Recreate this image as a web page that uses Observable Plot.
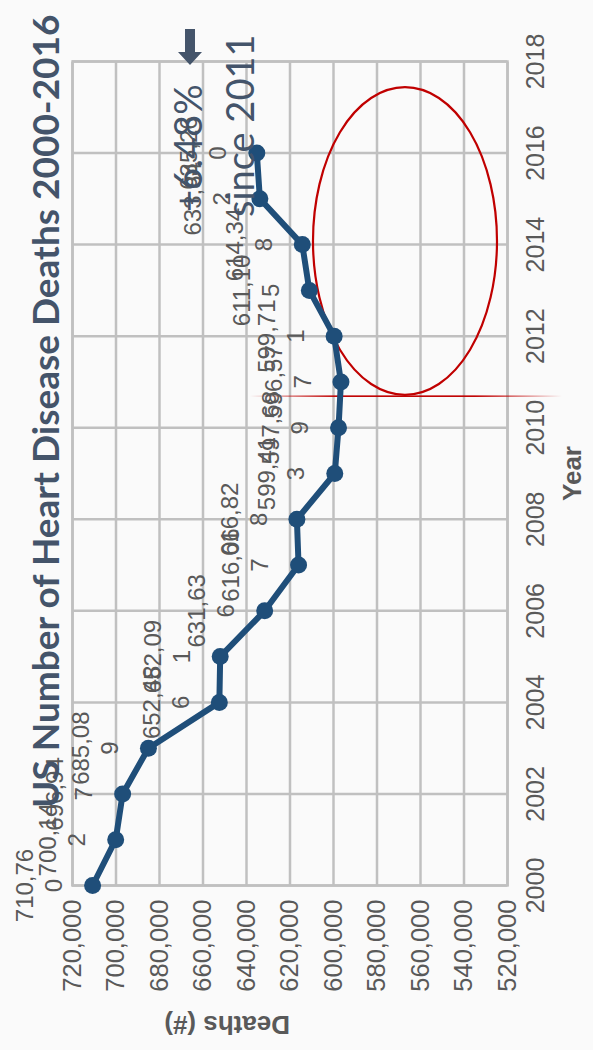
<!DOCTYPE html>
<html>
<head>
<meta charset="utf-8">
<script src="https://cdn.jsdelivr.net/npm/d3@7"></script>
<script src="https://cdn.jsdelivr.net/npm/@observablehq/plot@0.6"></script>
<style>
  html, body { margin: 0; padding: 0; background: #fafafa; overflow: hidden; width: 593px; height: 1050px; }
  #rot { position: absolute; left: 0; top: 0; width: 1050px; height: 593px;
         transform-origin: 0 0; transform: translate(0px, 1050px) rotate(-90deg); }
  #chart { position: absolute; left: 0; top: 0; }
  .title { position: absolute; left: 242px; top: 26px; white-space: nowrap;
           font-family: Lato, "Open Sans", sans-serif; font-weight: bold; font-size: 37px;
           line-height: 38px; color: #44546a; }
  .note { position: absolute; white-space: nowrap; font-family: Lato, "Open Sans", sans-serif;
          font-size: 38px; line-height: 38px; color: #44546a; }
  #arrow { position: absolute; left: 985px; top: 178px; }
</style>
</head>
<body>
<div id="rot">
  <div id="chart"></div>
  <div class="title" id="title"></div>
  <div class="note" id="note1" style="left:838px; top:168px;"></div>
  <div class="note" id="note2" style="left:833px; top:220px;"></div>
  <svg id="arrow" width="36" height="24" viewBox="0 0 36 24"><polygon points="0,12 13,0 13,7 36,7 36,17 13,17 13,24" fill="#44546a"/></svg>
</div>
<script>
const years = [2000, 2001, 2002, 2003, 2004, 2005, 2006, 2007, 2008, 2009, 2010, 2011, 2012, 2013, 2014, 2015, 2016];
const deaths = [710760, 700142, 696947, 685089, 652486, 652091, 631636, 616067, 616828, 599413, 597689, 596577, 599711, 611105, 614348, 633842, 635260];
const yearTicks = [2000, 2002, 2004, 2006, 2008, 2010, 2012, 2014, 2016, 2018];
const deathTicks = [520000, 540000, 560000, 580000, 600000, 620000, 640000, 660000, 680000, 700000, 720000];
const titleText = "US Number of Heart Disease Deaths 2000-2016";
const xLabel = "Year";
const yLabel = "Deaths (#)";
const noteLine1 = "+6.48%";
const noteLine2 = "since 2011";

// annotation shapes (data units)
const ellipseCenter = {year: 2014.09, deaths: 566900};
const ellipseRadius = {years: 3.36, deaths: 42300};
const markerLine = {year: 2010.70, from: 638200, to: 494700};

document.getElementById("title").textContent = titleText;
document.getElementById("note1").textContent = noteLine1;
document.getElementById("note2").textContent = noteLine2;

const data = years.map((year, i) => ({year, deaths: deaths[i]}));
const fmt = d3.format(",");

function annotations(index, scales) {
  const g = d3.create("svg:g");
  const x = scales.x, y = scales.y;
  const defs = g.append("defs");
  const x0 = x(markerLine.year), y0 = y(markerLine.from), y1 = y(markerLine.to);
  const grad = defs.append("linearGradient").attr("id", "fadeLine")
    .attr("gradientUnits", "userSpaceOnUse")
    .attr("x1", x0).attr("x2", x0).attr("y1", y0).attr("y2", y1);
  grad.append("stop").attr("offset", "0%").attr("stop-color", "#c00000").attr("stop-opacity", 0);
  grad.append("stop").attr("offset", "28%").attr("stop-color", "#c00000").attr("stop-opacity", 1);
  grad.append("stop").attr("offset", "72%").attr("stop-color", "#c00000").attr("stop-opacity", 1);
  grad.append("stop").attr("offset", "100%").attr("stop-color", "#c00000").attr("stop-opacity", 0);
  g.append("rect").attr("x", x0 - 0.8).attr("y", y0).attr("width", 1.6).attr("height", y1 - y0)
    .attr("fill", "url(#fadeLine)");
  const cx = x(ellipseCenter.year), cy = y(ellipseCenter.deaths);
  g.append("ellipse").attr("cx", cx).attr("cy", cy)
    .attr("rx", x(ellipseCenter.year + ellipseRadius.years) - cx)
    .attr("ry", cy - y(ellipseCenter.deaths + ellipseRadius.deaths))
    .attr("fill", "none").attr("stroke", "#c00000").attr("stroke-width", 2.2);
  return g.node();
}

const chart = Plot.plot({
  width: 1050,
  height: 593,
  marginLeft: 164,
  marginRight: 62,
  marginTop: 72,
  marginBottom: 86,
  style: {fontFamily: "'Liberation Sans', Arial, sans-serif", fontSize: "25px", color: "#595959", background: "transparent", overflow: "visible"},
  x: {domain: [2000, 2018], ticks: yearTicks, tickFormat: d => String(d)},
  y: {domain: [520000, 720000], ticks: deathTicks, tickFormat: d => fmt(d)},
  marks: [
    Plot.gridX(yearTicks, {stroke: "#c0c0c0", strokeOpacity: 1, strokeWidth: 2.5}),
    Plot.gridY(deathTicks, {stroke: "#c0c0c0", strokeOpacity: 1, strokeWidth: 2.5}),
    Plot.frame({stroke: "#c0c0c0", strokeWidth: 2.5}),
    Plot.axisX(yearTicks, {tickSize: 0, tickPadding: 19, label: null, tickFormat: d => String(d), fontSize: 25, fill: "#595959"}),
    Plot.axisY(deathTicks, {tickSize: 0, tickPadding: 14, label: null, tickFormat: d => fmt(d), fontSize: 25.5, fill: "#595959"}),
    Plot.text([xLabel], {frameAnchor: "bottom", dy: 73, fontWeight: "bold", fontSize: 26, fill: "#595959"}),
    Plot.text([yLabel], {frameAnchor: "left", dx: -139, rotate: -90, fontWeight: "bold", fontSize: 26, fill: "#595959"}),
    annotations,
    Plot.line(data, {x: "year", y: "deaths", stroke: "#1f4e79", strokeWidth: 6, strokeLinejoin: "round"}),
    Plot.dot(data, {x: "year", y: "deaths", r: 8.5, fill: "#1f4e79", stroke: null}),
    Plot.text(data, {x: "year", y: "deaths", text: d => fmt(d.deaths).slice(0, 6), dy: -67, fontSize: 24, fill: "#595959"}),
    Plot.text(data, {x: "year", y: "deaths", text: d => fmt(d.deaths).slice(6), dy: -38, fontSize: 24, fill: "#595959"})
  ]
});
document.getElementById("chart").appendChild(chart);
</script>
</body>
</html>
